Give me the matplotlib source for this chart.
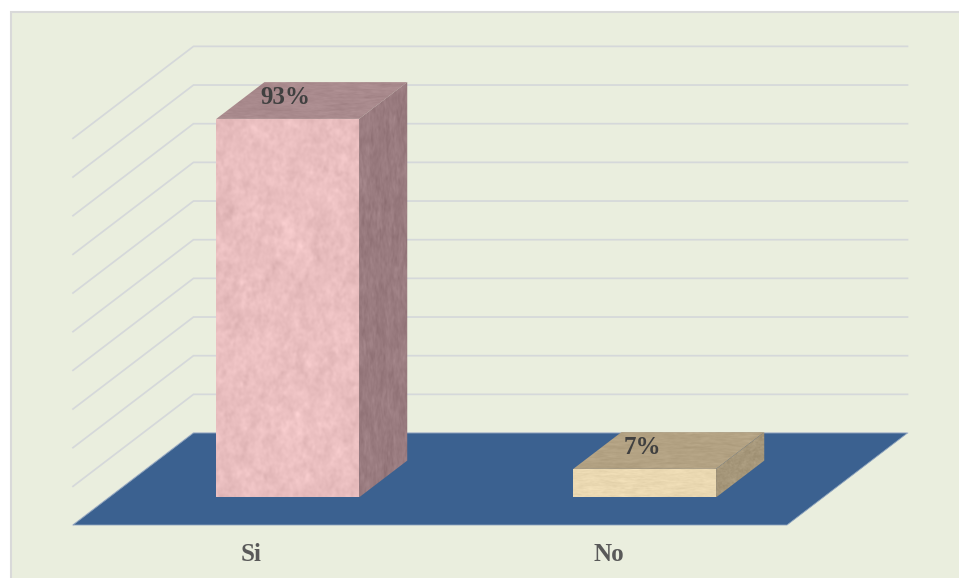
import numpy as np
import matplotlib
matplotlib.use('Agg')
import matplotlib.pyplot as plt
from matplotlib.patches import Polygon, Rectangle

categories = ['Si', 'No']
values = [93, 7]
labels = ['93%', '7%']
front_colors = ['#EABFC0', '#EBD9B2']
top_colors = ['#A98A8D', '#B3A283']
side_colors = ['#997B7F', '#A6977A']

BG = '#EAEEDE'
GRID = '#D5D8DA'
FLOOR = '#3B6190'

# 3d look: depth runs from 0 (front) to 1 (back wall) and shears x and y
DEPTH_X = 0.3375
DEPTH_Y = 22.6
GRID_STEP = 9.5
BAR_WIDTH = 0.4
BAR_D0 = 0.3
BAR_D1 = 0.7

rng = np.random.default_rng(7)


def proj(x, v, d=0):
    return x + d * DEPTH_X, v + d * DEPTH_Y


def marble(shape, contrast):
    # smoothed noise, used as a stone texture on the bar faces
    noise = rng.normal(size=shape)
    fy = np.fft.fftfreq(shape[0])[:, None]
    fx = np.fft.rfftfreq(shape[1])[None, :]
    r2 = fx ** 2 + fy ** 2
    lowpass = np.exp(-r2 * 2500) + 0.6 * np.exp(-r2 * 250) + 0.35 * np.exp(-r2 * 40)
    tex = np.fft.irfft2(np.fft.rfft2(noise) * lowpass, s=shape)
    return tex / tex.std() * contrast


def textured(ax, pts, color, contrast):
    pts = np.array(pts)
    x0, x1 = pts[:, 0].min(), pts[:, 0].max()
    y0, y1 = pts[:, 1].min(), pts[:, 1].max()
    base = np.array(matplotlib.colors.to_rgb(color))
    tex = marble((400, 200), contrast)[..., None]
    img = np.clip(base + tex, 0, 1)
    im = ax.imshow(img, extent=(x0, x1, y0, y1), aspect='auto', zorder=4,
                   interpolation='bilinear')
    poly = Polygon(pts, closed=True, transform=ax.transData, fc='none', ec='none')
    ax.add_patch(poly)
    im.set_clip_path(poly)


fig = plt.figure(figsize=(9.59, 5.78), dpi=100, facecolor='white')
ax = fig.add_axes([0, 0, 1, 1])
ax.set_axis_off()

# panel behind the chart, in axes fractions
ax.add_patch(Rectangle((10.5 / 959, -0.01), 1.1, 1 - 11.5 / 578 + 0.01, transform=ax.transAxes,
                       fc=BG, ec='#D9D9D9', lw=1.5, zorder=0))

# back wall and left wall gridlines
grid_levels = np.arange(0, 11) * GRID_STEP
for lv in grid_levels:
    xs, ys = zip(proj(-0.5, lv, 0), proj(-0.5, lv, 1), proj(1.5, lv, 1))
    ax.plot(xs, ys, color=GRID, lw=1.25, zorder=1, solid_joinstyle='miter')

# floor
floor = [proj(-0.5, 0, 0), proj(1.5, 0, 0), proj(1.5, 0, 1), proj(-0.5, 0, 1)]
ax.add_patch(Polygon(floor, closed=True, fc=FLOOR, ec='#8DA3BD', lw=0.6, zorder=2))

for i, v in enumerate(values):
    l = i - BAR_WIDTH / 2
    r = i + BAR_WIDTH / 2
    front = [proj(l, 0, BAR_D0), proj(r, 0, BAR_D0), proj(r, v, BAR_D0), proj(l, v, BAR_D0)]
    top = [proj(l, v, BAR_D0), proj(r, v, BAR_D0), proj(r, v, BAR_D1), proj(l, v, BAR_D1)]
    side = [proj(r, 0, BAR_D0), proj(r, 0, BAR_D1), proj(r, v, BAR_D1), proj(r, v, BAR_D0)]
    textured(ax, front, front_colors[i], 0.016)
    textured(ax, top, top_colors[i], 0.014)
    textured(ax, side, side_colors[i], 0.016)

    ax.annotate(labels[i], xy=proj(i, v, BAR_D0), xytext=(-1.5, 15.5), textcoords='offset points',
                ha='center', va='center', fontsize=18, fontweight='bold',
                family='Liberation Serif', color='#404040', zorder=6)

    ax.text(i, -7.2, categories[i], ha='center', va='center', fontsize=18, fontweight='bold',
            family='Liberation Serif', color='#595959', zorder=6)

# scale: one category is 357 px wide, one value unit is 4.07 px tall
ax.set_xlim(-0.5 - 73 / 357, -0.5 + (959 - 73) / 357)
ax.set_ylim(-(578 - 525) / 4.07, 525 / 4.07)

fig.savefig('out.png', dpi=100, facecolor='white')
